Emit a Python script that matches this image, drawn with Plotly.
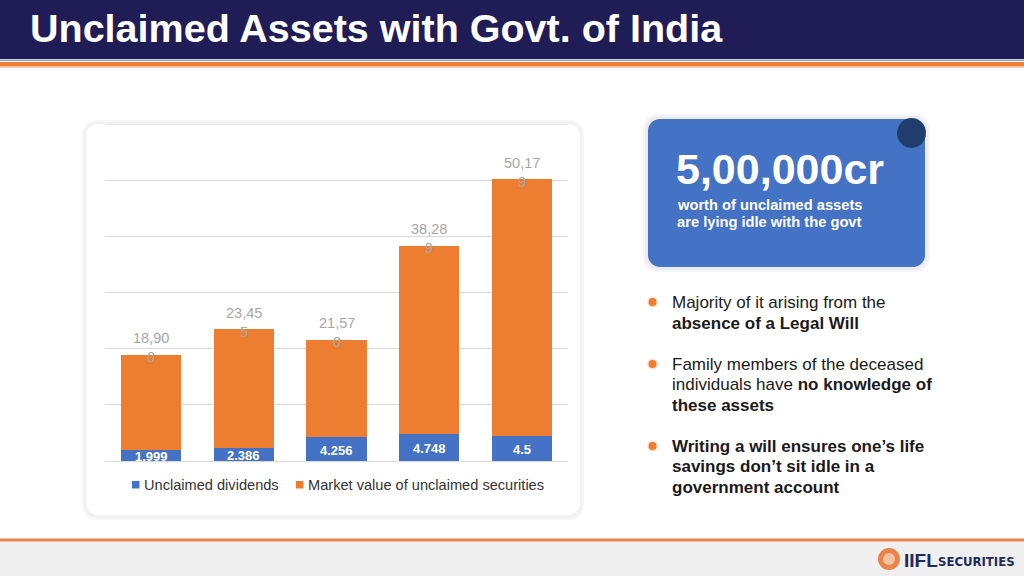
import plotly.graph_objects as go

W, H = 1024, 576

years = ["A", "B", "C", "D", "E"]
dividends = [1999, 2386, 4256, 4748, 4500]
securities = [16901, 21069, 17314, 33541, 45679]
total_labels = ["18,90<br>0", "23,45<br>5", "21,57<br>0", "38,28<br>9", "50,17<br>9"]
totals = [18900, 23455, 21570, 38289, 50179]
div_labels = ["1.999", "2.386", "4.256", "4.748", "4.5"]
series_names = ["Unclaimed dividends", "Market value of unclaimed securities"]
y_max = 60000

BLUE = "#4472c4"
ORANGE = "#ed7d31"
NAVY = "#1f1c56"


def px(x):
    return x / W


def py(y):
    return 1 - y / H


def rrect(x0, y0, x1, y1, r):
    k = 0.552 * r
    pts = [
        ("M", [(x0 + r, y0)]),
        ("L", [(x1 - r, y0)]),
        ("C", [(x1 - r + k, y0), (x1, y0 + r - k), (x1, y0 + r)]),
        ("L", [(x1, y1 - r)]),
        ("C", [(x1, y1 - r + k), (x1 - r + k, y1), (x1 - r, y1)]),
        ("L", [(x0 + r, y1)]),
        ("C", [(x0 + r - k, y1), (x0, y1 - r + k), (x0, y1 - r)]),
        ("L", [(x0, y0 + r)]),
        ("C", [(x0, y0 + r - k), (x0 + r - k, y0), (x0 + r, y0)]),
    ]
    s = ""
    for cmd, ps in pts:
        s += cmd + " " + " ".join(f"{px(a):.5f},{py(b):.5f}" for a, b in ps) + " "
    return s + "Z"


shapes = []


def rect(x0, y0, x1, y1, color, layer="below"):
    shapes.append(dict(type="rect", xref="paper", yref="paper", x0=px(x0), x1=px(x1),
                       y0=py(y1), y1=py(y0), fillcolor=color, line_width=0, layer=layer))


def path(p, color, layer="below"):
    shapes.append(dict(type="path", xref="paper", yref="paper", path=p,
                       fillcolor=color, line_width=0, layer=layer))


# title bar
rect(0, 0, 1024, 59, NAVY)
rect(0, 59.5, 1024, 61, "#9c9cab")
rect(0, 62, 1024, 66.5, ORANGE)
rect(0, 66.5, 1024, 68, "#f7c9a8")
# bottom band
rect(0, 541, 1024, 576, "#efefef")
rect(0, 538.5, 1024, 541.5, "#e9834a")

# chart card with shadow
path(rrect(82, 120, 584, 520, 14), "#f7f7f7")
path(rrect(84, 122, 582, 518, 13), "#f1f1f1")
path(rrect(86, 124, 580, 515, 12), "#ffffff")

# top gridline of chart
shapes.append(dict(type="line", xref="x domain", yref="y", x0=0, x1=1, y0=y_max, y1=y_max,
                   line=dict(color="#d9d9d9", width=1), layer="below"))

# blue card with shadow
path(rrect(643, 114, 930, 272, 15), "#f5f5f7")
path(rrect(645, 116, 928, 270, 14), "#ededf1")
path(rrect(648, 119, 925, 267, 12), "#4472c4")
shapes.append(dict(type="circle", xref="paper", yref="paper", x0=px(897), x1=px(926),
                   y0=py(148), y1=py(118), fillcolor="#1f3e6e", line_width=0, layer="below"))

# bullet dots
for yb in [302, 364, 446]:
    shapes.append(dict(type="circle", xref="paper", yref="paper", x0=px(647), x1=px(658),
                       y0=py(yb + 5.5), y1=py(yb - 5.5), fillcolor="#fde3d2", line_width=0, layer="above"))
    shapes.append(dict(type="circle", xref="paper", yref="paper", x0=px(648.5), x1=px(656.5),
                       y0=py(yb + 4), y1=py(yb - 4), fillcolor=ORANGE, line_width=0, layer="above"))

# logo icon
shapes.append(dict(type="circle", xref="paper", yref="paper", x0=px(878), x1=px(900),
                   y0=py(570), y1=py(548), fillcolor="#e9834a", line_width=0, layer="above"))
shapes.append(dict(type="circle", xref="paper", yref="paper", x0=px(883), x1=px(895),
                   y0=py(565), y1=py(553), fillcolor="#f6c3a0", line_width=0, layer="above"))

fig = go.Figure()
fig.add_trace(go.Bar(x=years, y=dividends, name=series_names[0], marker_color=BLUE,
                     marker_line_width=0, hoverinfo="skip"))
fig.add_trace(go.Bar(x=years, y=securities, name=series_names[1],
                     marker_color=ORANGE, marker_line_width=0, hoverinfo="skip"))

annotations = []
for xi, t, lab in zip(years, totals, total_labels):
    annotations.append(dict(x=xi, y=t, xref="x", yref="y", text=lab, showarrow=False,
                            yanchor="middle", yshift=7,
                            font=dict(family="Liberation Sans, Arial", size=14.5, color="#a6a6a6")))
for xi, d, lab in zip(years, dividends, div_labels):
    annotations.append(dict(x=xi, y=d / 2, xref="x", yref="y", text=f"<b>{lab}</b>", showarrow=False,
                            yanchor="middle", yshift=-1,
                            font=dict(family="Liberation Sans, Arial", size=13, color="#ffffff")))


def txt(x, y, text, size, color, anchor="left", family="Liberation Sans, Arial", yanchor="middle"):
    annotations.append(dict(x=px(x), y=py(y), xref="paper", yref="paper", text=text, showarrow=False,
                            xanchor=anchor, yanchor=yanchor, align="left",
                            font=dict(family=family, size=size, color=color)))


# manual legend
for (sx, tx), name, col in zip([(132, 142), (296, 306)], series_names, [BLUE, ORANGE]):
    rect(sx, 481, sx + 7.5, 488.5, col, layer="above")
    txt(tx, 485, name, 14.6, "#333333")

txt(28, 28, "<b>Unclaimed Assets with Govt. of India</b>", 39.5, "#ffffff")
txt(674, 169, "<b>5,00,000cr</b>", 43, "#ffffff")
txt(675, 205, "<b>worth of unclaimed assets</b>", 14.7, "#ffffff")
txt(675, 222, "<b>are lying idle with the govt</b>", 14.7, "#ffffff")

DARK = "#1a1a1a"
txt(670, 302, "Majority of it arising from the", 17, DARK)
txt(670, 323, "<b>absence of a Legal Will</b>", 17, DARK)
txt(670, 364, "Family members of the deceased", 17, DARK)
txt(670, 384, "individuals have <b>no knowledge of</b>", 17, DARK)
txt(670, 405, "<b>these assets</b>", 17, DARK)
txt(670, 446, "<b>Writing a will ensures one’s life</b>", 17, DARK)
txt(670, 466, "<b>savings don’t sit idle in a</b>", 17, DARK)
txt(670, 487, "<b>government account</b>", 17, DARK)

txt(902, 560, "<b>IIFL</b>", 19, "#1f2a5c")
txt(936, 561, "<b>SECURITIES</b>", 13, "#1f2a5c", family="DejaVu Sans Condensed, Liberation Sans")

fig.update_layout(
    width=W, height=H, margin=dict(l=0, r=0, t=0, b=0),
    paper_bgcolor="#ffffff", plot_bgcolor="rgba(0,0,0,0)",
    barmode="stack", bargap=0.35,
    shapes=shapes, annotations=annotations,
    showlegend=False,
    xaxis=dict(domain=[px(105), px(568)], showticklabels=False, showgrid=False, zeroline=False,
               showline=False, ticks=""),
    yaxis=dict(domain=[py(461), py(124)], range=[0, y_max], dtick=10000, showticklabels=False,
               showgrid=True, gridcolor="#d9d9d9", gridwidth=1, zeroline=True,
               zerolinecolor="#d9d9d9", zerolinewidth=1, showline=False, ticks=""),
    font=dict(family="Liberation Sans, Arial"),
)

fig.write_html("out.html", config={"displayModeBar": False},
               post_script="document.body.style.margin='0px';")
